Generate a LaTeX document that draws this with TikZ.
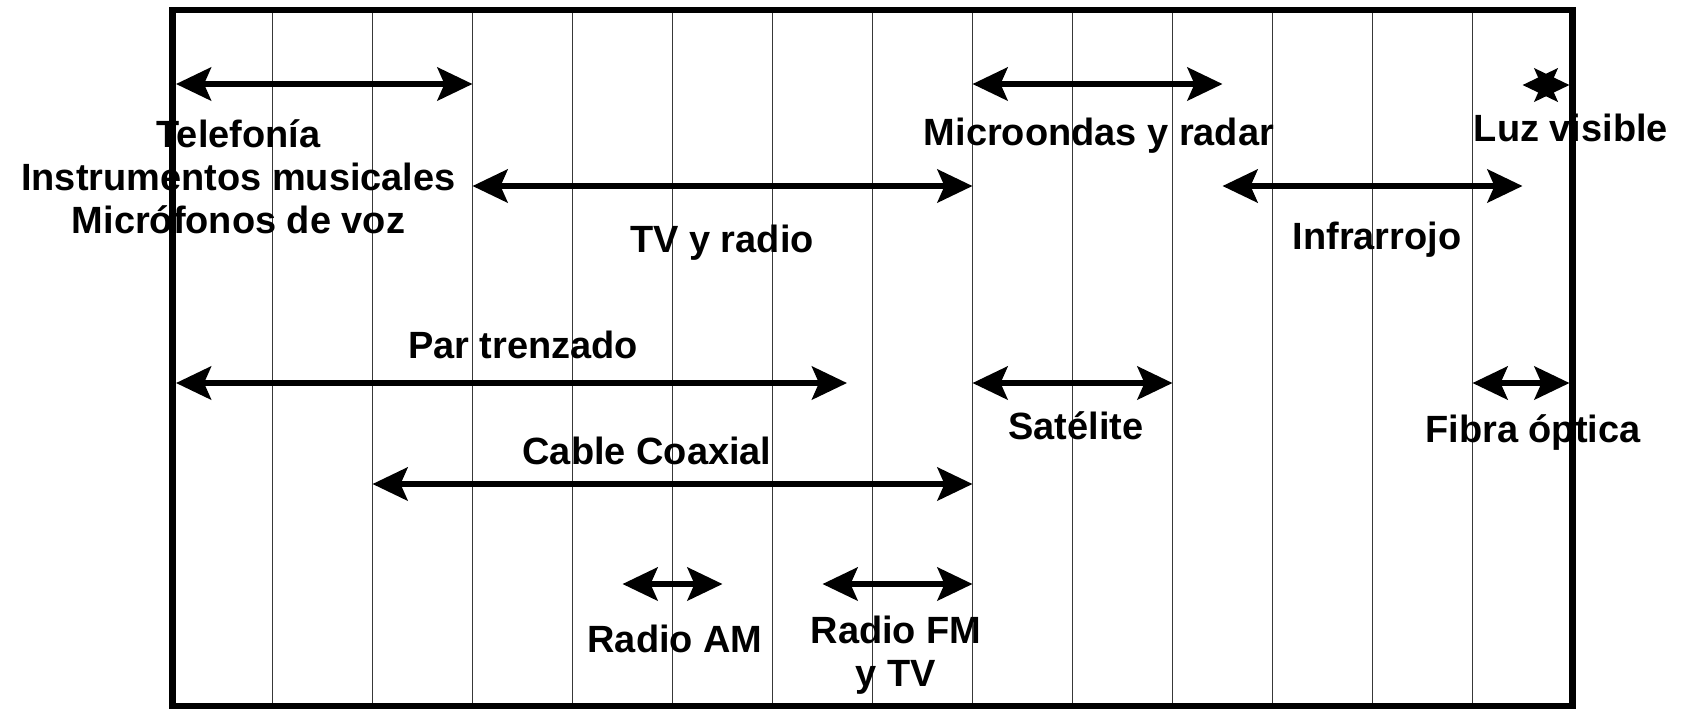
\documentclass[tikz,border=0pt]{standalone}
\usepackage{fontspec}
\setmainfont{Liberation Sans}
\usetikzlibrary{arrows.meta}
\definecolor{Ink}{HTML}{000000}
\definecolor{Grid}{HTML}{383838}

\begin{document}
\begin{tikzpicture}[
  font=\fontsize{10.8}{12.1}\selectfont\bfseries,
  band/.style={{Stealth[length=3.5mm,width=3.3mm,inset=0.7mm]}-{Stealth[length=3.5mm,width=3.3mm,inset=0.7mm]},
    line width=0.6mm,color=Ink},
  lbl/.style={anchor=base,align=center,inner sep=0pt,color=Ink},
  gridline/.style={Grid,line width=0.18mm}
]
\useasboundingbox (0,0) rectangle (16.86,-7.09);

% Frequency columns and outer frame.
\foreach \k in {1,...,13}
  \draw[gridline] (1.725+\k,-0.10) -- (1.725+\k,-7.06);
\draw[Ink,line width=0.65mm] (1.725,-0.10) rectangle (15.725,-7.06);

% Upper rows: applications.
\coordinate (telL) at (1.76,-0.84);
\coordinate (telR) at (4.725,-0.84);
\draw[band] (telL) -- (telR);
\node[lbl] (telefonia) at (2.385,-2.33)
  {Telefonía\\Instrumentos musicales\\Micrófonos de voz};

\coordinate (tvL) at (4.725,-1.86);
\coordinate (tvR) at (9.725,-1.86);
\draw[band] (tvL) -- (tvR);
\node[lbl] (tvradio) at (7.22,-2.52) {TV y radio};

\coordinate (microL) at (9.725,-0.84);
\coordinate (microR) at (12.225,-0.84);
\draw[band] (microL) -- (microR);
\node[lbl] (microondas) at (10.99,-1.45) {Microondas y radar};

\coordinate (luzL) at (15.225,-0.85);
\coordinate (luzR) at (15.695,-0.85);
\draw[band] (luzL) -- (luzR);
\node[lbl] (luz) at (15.71,-1.41) {Luz visible};

\coordinate (infraL) at (12.225,-1.86);
\coordinate (infraR) at (15.225,-1.86);
\draw[band] (infraL) -- (infraR);
\node[lbl] (infrarrojo) at (13.77,-2.49) {Infrarrojo};

% Lower rows: transmission media.
\coordinate (parL) at (1.76,-3.83);
\coordinate (parR) at (8.47,-3.83);
\draw[band] (parL) -- (parR);
\node[lbl] (par) at (5.23,-3.58) {Par trenzado};

\coordinate (satL) at (9.725,-3.83);
\coordinate (satR) at (11.725,-3.83);
\draw[band] (satL) -- (satR);
\node[lbl] (satelite) at (10.76,-4.39) {Satélite};

\coordinate (fibraL) at (14.725,-3.83);
\coordinate (fibraR) at (15.695,-3.83);
\draw[band] (fibraL) -- (fibraR);
\node[lbl] (fibra) at (15.33,-4.42) {Fibra óptica};

\coordinate (coaxL) at (3.725,-4.84);
\coordinate (coaxR) at (9.725,-4.84);
\draw[band] (coaxL) -- (coaxR);
\node[lbl] (coaxial) at (6.47,-4.64) {Cable Coaxial};

\coordinate (amL) at (6.225,-5.84);
\coordinate (amR) at (7.225,-5.84);
\draw[band] (amL) -- (amR);
\node[lbl] (radioam) at (6.75,-6.52) {Radio AM};

\coordinate (fmL) at (8.225,-5.84);
\coordinate (fmR) at (9.725,-5.84);
\draw[band] (fmL) -- (fmR);
\node[lbl] (radiofm) at (8.96,-6.86) {Radio FM\\y TV};
\end{tikzpicture}
\end{document}
